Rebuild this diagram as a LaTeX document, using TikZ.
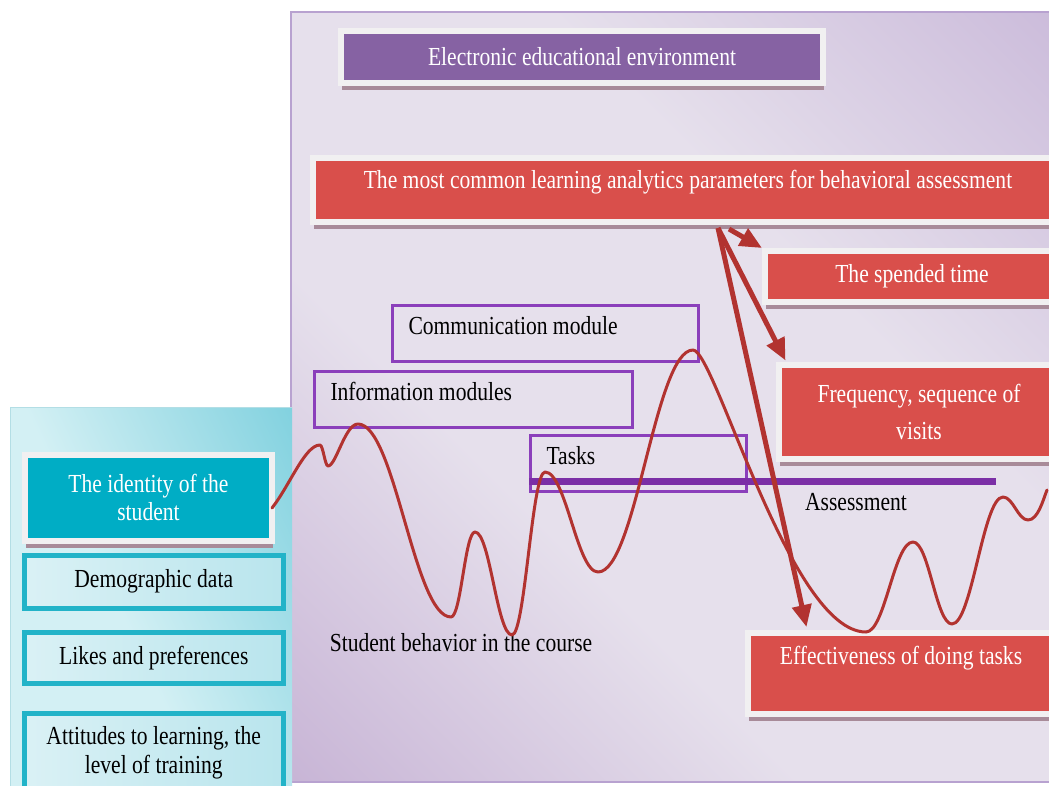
\documentclass[tikz,border=0pt]{standalone}
\usepackage{fontspec}
\setmainfont{Liberation Serif}[FakeStretch=0.83]
\usetikzlibrary{arrows.meta,shadows,calc}
\definecolor{framec}{HTML}{F1F0F1}
\definecolor{redc}{HTML}{D94F4B}
\definecolor{arrowc}{HTML}{B23330}
\definecolor{titlec}{HTML}{8662A3}
\definecolor{outlinec}{HTML}{8B3FBB}
\definecolor{barc}{HTML}{7B2FA6}
\definecolor{tealc}{HTML}{00ADC5}
\definecolor{tealborder}{HTML}{22B3C8}
\definecolor{lightA}{HTML}{DAF1F5}
\definecolor{lightB}{HTML}{B9E5ED}
\definecolor{shadowc}{HTML}{A88B99}
\definecolor{pdark}{HTML}{B59AC8}
\definecolor{plight}{HTML}{E6E0EC}
\definecolor{pdarkR}{HTML}{BBA5D0}
\definecolor{panelborder}{HTML}{B8A2D0}
\definecolor{cyanlight}{HTML}{D3F0F4}
\definecolor{cyandark}{HTML}{5EC4D6}
\pgfdeclarehorizontalshading{panelshade}{100bp}{color(0bp)=(pdark); color(38bp)=(plight); color(62bp)=(plight); color(100bp)=(pdarkR)}
\pgfdeclarehorizontalshading{cyanshade}{100bp}{color(0bp)=(cyanlight); color(45bp)=(cyanlight); color(100bp)=(cyandark)}
\begin{document}
\begin{tikzpicture}[x=1pt,y=-1pt,
  font=\fontsize{26}{29}\selectfont,
  boxshadow/.style={drop shadow={shadow xshift=1pt,shadow yshift=-7pt,fill=shadowc,opacity=1}},
  framed/.style={draw=framec,line width=6pt,boxshadow,text=white,inner sep=0pt},
  redbox/.style={framed,fill=redc},
  titlebox/.style={framed,fill=titlec},
  idbox/.style={framed,fill=tealc,align=center},
  lightbox/.style={draw=tealborder,line width=5pt,left color=lightA,right color=lightB,align=center,inner sep=0pt},
  modbox/.style={draw=outlinec,line width=3pt,align=flush left,inner xsep=16pt,inner ysep=0pt,minimum height=56pt,text height=17pt,text depth=15pt},
  arrowline/.style={draw=arrowc,line width=5pt,-{Triangle[length=22pt,width=19pt]}},
  curve/.style={draw=arrowc,line width=3pt,line cap=round,line join=round}
]
\useasboundingbox (0,0) rectangle (1049,785);
\clip (0,0) rectangle (1049,785);
\fill[white] (0,0) rectangle (1049,785);
% main panel
\path[shading=panelshade,shading angle=45] (291,12) rectangle (1060,782);
\draw[panelborder,line width=1.5pt] (1060,12) -- (291,12) -- (291,782) -- (1060,782);
% left panel
\path[shading=cyanshade,shading angle=25] (10,407) rectangle (292,800);
\draw[framec!70!tealborder,line width=1pt] (10,800) -- (10,407) -- (292,407);

% title
\node[titlebox,minimum width=482pt,minimum height=52pt] (title) at (582,56.5) {Electronic educational environment};
% red boxes
\node[redbox,minimum width=750pt,minimum height=64pt,text height=17pt,text depth=21pt] (main) at (688,190) {The most common learning analytics parameters for behavioral assessment};
\node[redbox,minimum width=294pt,minimum height=51pt] (time) at (912,276.5) {The spended time};
\node[redbox,minimum width=281pt,minimum height=94pt,align=center,font=\fontsize{26}{37}\selectfont] (freq) at (919,411.5) {Frequency, sequence of\\visits};
\node[redbox,minimum width=307pt,minimum height=81pt,text height=17pt,text depth=35pt] (eff) at (901,673.5) {Effectiveness of doing tasks};

% module boxes
\node[modbox,text width=274pt] (comm) at (545.5,333) {Communication module};
\node[modbox,text width=286pt] (info) at (473.5,399.5) {Information modules};
\node[modbox,text width=184pt] (tasks) at (638.5,463.5) {Tasks};
\coordinate (barL) at (529,481);
\coordinate (barR) at (996,481);
\draw[barc,line width=7pt] (barL) -- (barR);
\node (assess) at (856,502) {Assessment};
\node (behav) at (461,643) {Student behavior in the course};

% left boxes
\node[idbox,minimum width=247pt,minimum height=86pt,font=\fontsize{26}{28}\selectfont] (id) at (148.5,497.5) {The identity of the\\student};
\node[lightbox,minimum width=258.5pt,minimum height=53pt] (demo) at (153.75,581.5) {Demographic data};
\node[lightbox,minimum width=258.5pt,minimum height=51pt] (likes) at (153.75,658) {Likes and preferences};
\node[lightbox,minimum width=258.5pt,minimum height=79.5pt,font=\fontsize{26}{29}\selectfont] (att) at (153.75,753.25) {Attitudes to learning, the\\level of training};

% behaviour curve
\draw[curve] (272,508)
  .. controls (290,485) and (305,445) .. (320,445)
  .. controls (323,445) and (325,466) .. (328,466)
  .. controls (336,466) and (345,424) .. (358,424)
  .. controls (395,424) and (414,617) .. (451,617)
  .. controls (461,617) and (465,532) .. (475,532)
  .. controls (490,532) and (497,635) .. (512,635)
  .. controls (525,635) and (532,472) .. (545,472)
  .. controls (566,472) and (577,572) .. (598,572)
  .. controls (636,572) and (655,350) .. (693,350)
  .. controls (715,350) and (790,632) .. (866,632)
  .. controls (885,632) and (894,542) .. (913,542)
  .. controls (929,542) and (936,624) .. (952,624)
  .. controls (972,624) and (983,497) .. (1003,497)
  .. controls (1013,497) and (1018,520) .. (1028,520)
  .. controls (1038,520) and (1043,500) .. (1047,490);

% arrows
\coordinate (o1) at (718,228);
\coordinate (o2) at (729,229);
\draw[arrowline] (o2) -- (time.north west);
\draw[arrowline] (o1) -- ($(freq.north west)+(10,-1)$);
\draw[arrowline] (o1) -- ($(eff.north west)+(62,-3)$);
\end{tikzpicture}
\end{document}
